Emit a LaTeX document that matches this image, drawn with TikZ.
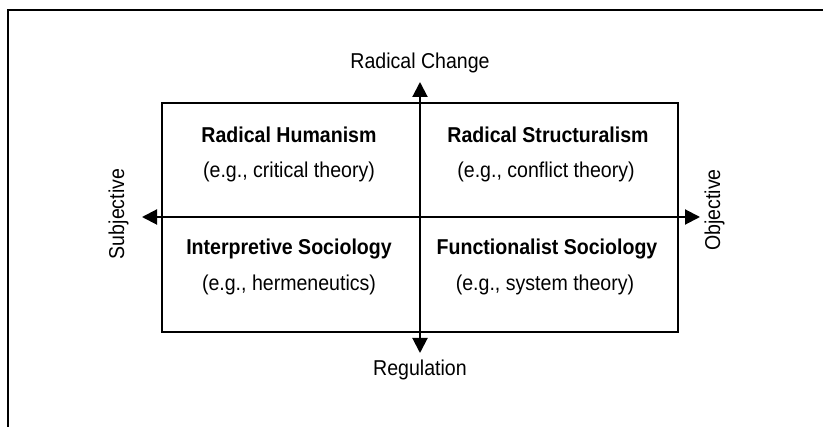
\documentclass[tikz,border=0pt]{standalone}
\usepackage{fontspec}
\setmainfont{Liberation Sans}
\usepackage{graphicx}
\usepackage{xcolor}
\usepackage{tikz}
\usetikzlibrary{arrows.meta}
\definecolor{ink}{HTML}{000000}
\newcommand{\narrowtext}[1]{\scalebox{0.91}[1]{#1}}
\tikzset{
  frameline/.style={draw=ink, line width=2pt},
  axis/.style={draw=ink, line width=2pt, {Triangle[length=15pt,width=15pt]}-{Triangle[length=15pt,width=15pt]}},
  head/.style={text=ink, anchor=base, font=\fontsize{21.5}{25}\selectfont\bfseries},
  eg/.style={text=ink, anchor=base, font=\fontsize{21.5}{25}\selectfont},
  lab/.style={text=ink, anchor=base, font=\fontsize{21.5}{25}\selectfont}
}

\begin{document}
\begin{tikzpicture}[x=1pt, y=-1pt]
  \useasboundingbox (0,0) rectangle (823,427);

  % cropped outer frame
  \draw[frameline] (8,427) -- (8,10) -- (823,10);

  % quadrant box
  \draw[frameline] (162,103) rectangle (678,332);

  \coordinate (up) at (420,82);
  \coordinate (down) at (420,353);
  \coordinate (west) at (142,217);
  \coordinate (east) at (700,217);

  \draw[axis] (west) -- (east);
  \draw[axis] (down) -- (up);

  % axis labels
  \node[lab] (change) at (420,69) {\narrowtext{Radical Change}};
  \node[lab] (regul) at (420,376) {\narrowtext{Regulation}};
  \node[lab, rotate=90] (subj) at (124,214) {\narrowtext{Subjective}};
  \node[lab, rotate=90] (obj) at (720,210) {\narrowtext{Objective}};

  % paradigms
  \node[head] (rh) at (289,142.5) {\narrowtext{Radical Humanism}};
  \node[eg] (rhx) at (289,178) {\narrowtext{(e.g., critical theory)}};
  \node[head] (rs) at (548,142.5) {\narrowtext{Radical Structuralism}};
  \node[eg] (rsx) at (546,178) {\narrowtext{(e.g., conflict theory)}};
  \node[head] (is) at (289,255) {\narrowtext{Interpretive Sociology}};
  \node[eg] (isx) at (289,291) {\narrowtext{(e.g., hermeneutics)}};
  \node[head] (fs) at (547,255) {\narrowtext{Functionalist Sociology}};
  \node[eg] (fsx) at (545,291) {\narrowtext{(e.g., system theory)}};
\end{tikzpicture}
\end{document}
